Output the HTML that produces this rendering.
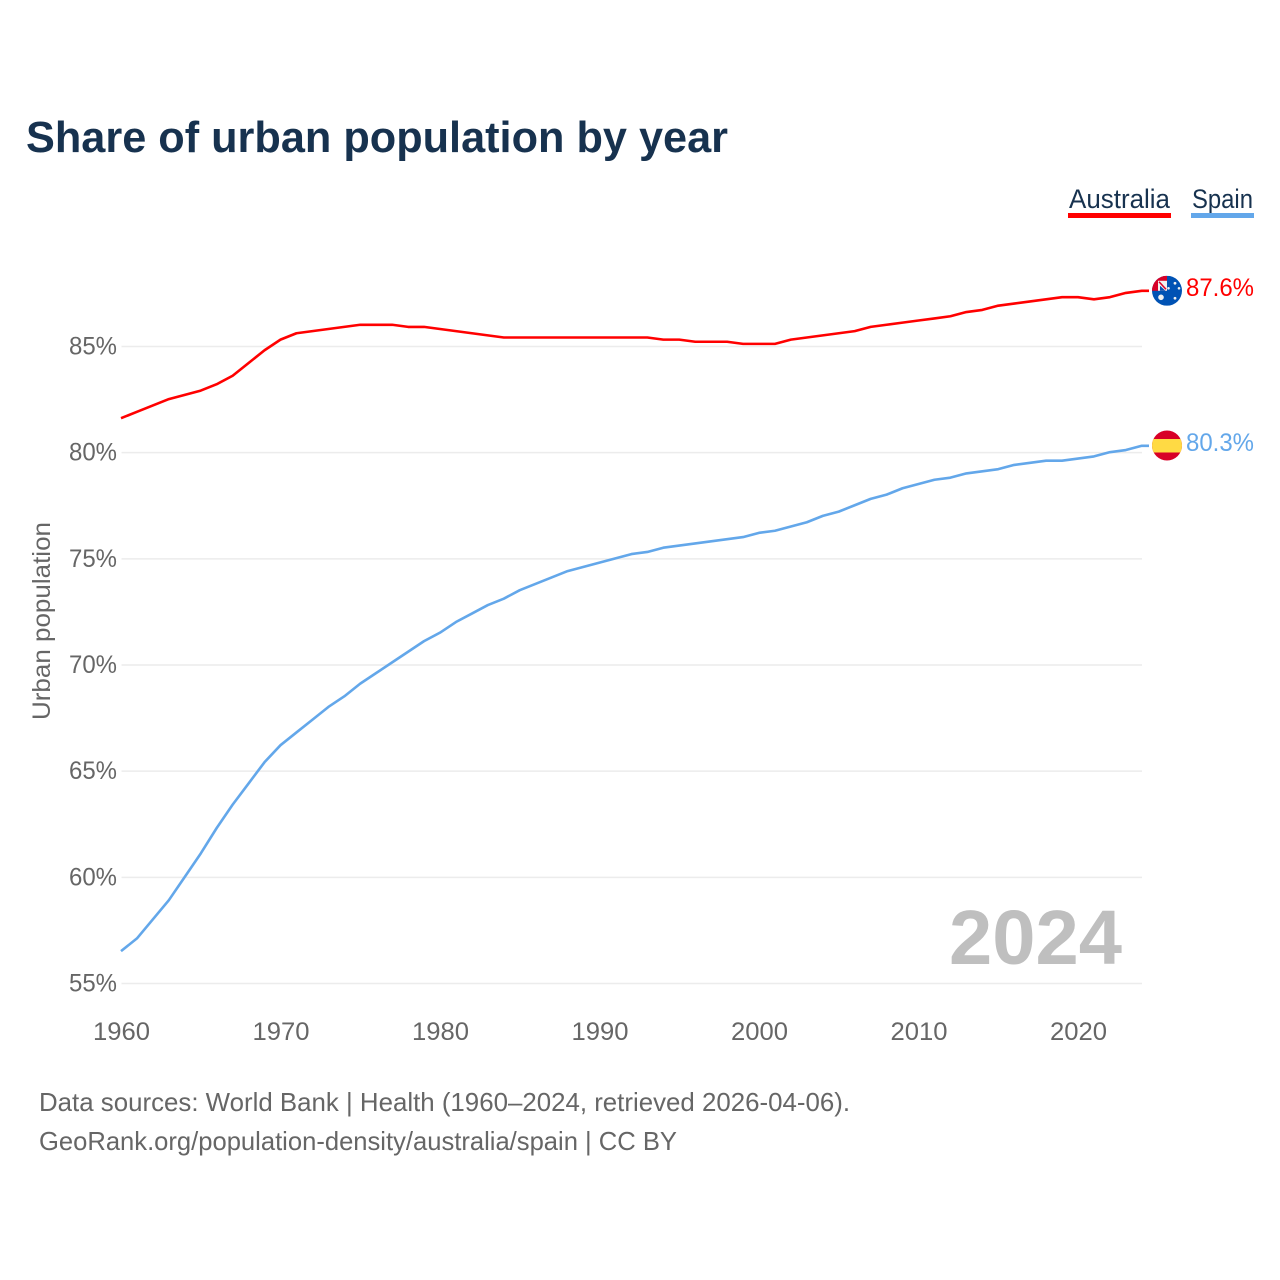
<!DOCTYPE html>
<html lang="en">
<head>
<meta charset="utf-8">
<title>Share of urban population by year</title>
<style>
html,body{margin:0;padding:0;background:#fff;}
svg{display:block;font-family:"Liberation Sans",sans-serif;}
</style>
</head>
<body>
<svg id="chart" xmlns="http://www.w3.org/2000/svg" width="1280" height="1280" viewBox="0 0 1280 1280">
  <rect width="1280" height="1280" fill="#fff"/>
  <text x="26" y="152" font-size="44" font-weight="700" fill="#17324f" textLength="702" lengthAdjust="spacingAndGlyphs">Share of urban population by year</text>

  <text x="1069" y="208" font-size="27" fill="#17324f" textLength="101" lengthAdjust="spacingAndGlyphs">Australia</text>
  <rect x="1068" y="213" width="103" height="5" fill="#ff0000"/>
  <text x="1192" y="208" font-size="27" fill="#17324f" textLength="61" lengthAdjust="spacingAndGlyphs">Spain</text>
  <rect x="1191" y="213" width="63" height="5" fill="#63a7ea"/>

  <g id="grid"></g>
  <g id="yticks"></g>
  <g id="xticks"></g>

  <text transform="translate(50,720) rotate(-90)" font-size="25" fill="#666" textLength="198" lengthAdjust="spacingAndGlyphs">Urban population</text>
  <text x="949" y="964" font-size="77" font-weight="700" fill="#bfbfbf" textLength="173" lengthAdjust="spacingAndGlyphs">2024</text>

  <path id="line-spain" fill="none" stroke="#63a7ea" stroke-width="2.6" stroke-linejoin="round"/>
  <path id="line-australia" fill="none" stroke="#ff0000" stroke-width="2.6" stroke-linejoin="round"/>

  <defs>
    <clipPath id="clip-au"><circle cx="0" cy="0" r="15"/></clipPath>
    <clipPath id="clip-es"><circle cx="0" cy="0" r="15"/></clipPath>
  </defs>
  <g id="flag-au">
    <g clip-path="url(#clip-au)">
      <rect x="-15" y="-15" width="30" height="30" fill="#0052b4"/>
      <rect x="-15" y="-15" width="15" height="15" fill="#d80027"/>
      <rect x="-9" y="-10" width="9" height="10" fill="#f0f0f0"/>
      <path d="M-7-5-1.500 0H-7z" fill="#0052b4"/>
      <path d="M-8-9-1-1.500" stroke="#d80027" stroke-width="1.500" fill="none"/>
      <circle cx="-6" cy="6.500" r="2.800" fill="#f0f0f0"/>
      <circle cx="8" cy="-7.500" r="1.400" fill="#f0f0f0"/>
      <circle cx="1.500" cy="-2.500" r="1.300" fill="#f0f0f0"/>
      <circle cx="12" cy="-2.500" r="1.300" fill="#f0f0f0"/>
      <circle cx="8" cy="7.500" r="1.400" fill="#f0f0f0"/>
    </g>
  </g>
  <g id="flag-es">
    <g clip-path="url(#clip-es)">
      <rect x="-15" y="-15" width="30" height="30" fill="#d80027"/>
      <rect x="-15" y="-6.500" width="30" height="13.500" fill="#ffda44"/>
    </g>
  </g>

  <text id="value-au" x="1186" font-size="25" fill="#ff0000" textLength="68" lengthAdjust="spacingAndGlyphs"></text>
  <text id="value-es" x="1186" font-size="25" fill="#63a7ea" textLength="68" lengthAdjust="spacingAndGlyphs"></text>

  <text x="39" y="1111" font-size="26" fill="#666" textLength="811" lengthAdjust="spacingAndGlyphs">Data sources: World Bank | Health (1960–2024, retrieved 2026-04-06).</text>
  <text x="39" y="1150" font-size="26" fill="#666" textLength="638" lengthAdjust="spacingAndGlyphs">GeoRank.org/population-density/australia/spain | CC BY</text>
</svg>
<script>
const years = [1960,1961,1962,1963,1964,1965,1966,1967,1968,1969,1970,1971,1972,1973,1974,1975,1976,1977,1978,1979,1980,1981,1982,1983,1984,1985,1986,1987,1988,1989,1990,1991,1992,1993,1994,1995,1996,1997,1998,1999,2000,2001,2002,2003,2004,2005,2006,2007,2008,2009,2010,2011,2012,2013,2014,2015,2016,2017,2018,2019,2020,2021,2022,2023,2024];
const australia = [81.6,81.9,82.2,82.5,82.7,82.9,83.2,83.6,84.2,84.8,85.3,85.6,85.7,85.8,85.9,86.0,86.0,86.0,85.9,85.9,85.8,85.7,85.6,85.5,85.4,85.4,85.4,85.4,85.4,85.4,85.4,85.4,85.4,85.4,85.3,85.3,85.2,85.2,85.2,85.1,85.1,85.1,85.3,85.4,85.5,85.6,85.7,85.9,86.0,86.1,86.2,86.3,86.4,86.6,86.7,86.9,87.0,87.1,87.2,87.3,87.3,87.2,87.3,87.5,87.6];
const spain = [56.5,57.1,58.0,58.9,60.0,61.1,62.3,63.4,64.4,65.4,66.2,66.8,67.4,68.0,68.5,69.1,69.6,70.1,70.6,71.1,71.5,72.0,72.4,72.8,73.1,73.5,73.8,74.1,74.4,74.6,74.8,75.0,75.2,75.3,75.5,75.6,75.7,75.8,75.9,76.0,76.2,76.3,76.5,76.7,77.0,77.2,77.5,77.8,78.0,78.3,78.5,78.7,78.8,79.0,79.1,79.2,79.4,79.5,79.6,79.6,79.7,79.8,80.0,80.1,80.3];
const yTickValues = [55,60,65,70,75,80,85];
const xTickValues = [1960,1970,1980,1990,2000,2010,2020];

const NS = 'http://www.w3.org/2000/svg';
function xScale(year){ return 121 + (year - 1960) * (1078 - 121) / 60; }
function yScale(v){ return 983.5 - (v - 55) * (983.5 - 346.5) / 30; }

function make(tag, attrs, parent, text){
  const el = document.createElementNS(NS, tag);
  for (const k in attrs) el.setAttribute(k, attrs[k]);
  if (text !== undefined) el.textContent = text;
  parent.appendChild(el);
  return el;
}

const gridG = document.getElementById('grid');
const yG = document.getElementById('yticks');
yTickValues.forEach(function(v){
  const line = make('line', {x1:121.5, x2:1142, y1:yScale(v), y2:yScale(v), stroke:'#ececec', 'stroke-width':1.5}, gridG);
  
  
  const label = make('text', {x:117, y:yScale(v)+8, 'text-anchor':'end', 'font-size':25, fill:'#666', textLength:48, lengthAdjust:'spacingAndGlyphs'}, yG, v + '%');
  
  
});

const xG = document.getElementById('xticks');
xTickValues.forEach(function(y){
  const label = make('text', {x:xScale(y)+0.5, y:1040, 'text-anchor':'middle', 'font-size':25, fill:'#666', textLength:57, lengthAdjust:'spacingAndGlyphs'}, xG, String(y));
  
  
});

function linePath(values){
  let d = values.map(function(v,i){
    return (i ? 'L' : 'M') + xScale(years[i]).toFixed(2) + ' ' + (yScale(v) - 0.5).toFixed(2);
  }).join('');
  d += 'L1149 ' + (yScale(values[values.length-1]) - 0.5).toFixed(2);
  return d;
}
document.getElementById('line-australia').setAttribute('d', linePath(australia));
document.getElementById('line-spain').setAttribute('d', linePath(spain));

const lastAu = australia[australia.length-1];
const lastEs = spain[spain.length-1];
document.getElementById('flag-au').setAttribute('transform', 'translate(1167,' + (yScale(lastAu)-0.5) + ')');
document.getElementById('flag-es').setAttribute('transform', 'translate(1167,' + (yScale(lastEs)-0.8) + ')');
const valAu = document.getElementById('value-au');
valAu.setAttribute('y', yScale(lastAu) + 4.5);
valAu.textContent = lastAu.toFixed(1) + '%';
const valEs = document.getElementById('value-es');
valEs.setAttribute('y', yScale(lastEs) + 4.5);
valEs.textContent = lastEs.toFixed(1) + '%';
</script>
</body>
</html>
